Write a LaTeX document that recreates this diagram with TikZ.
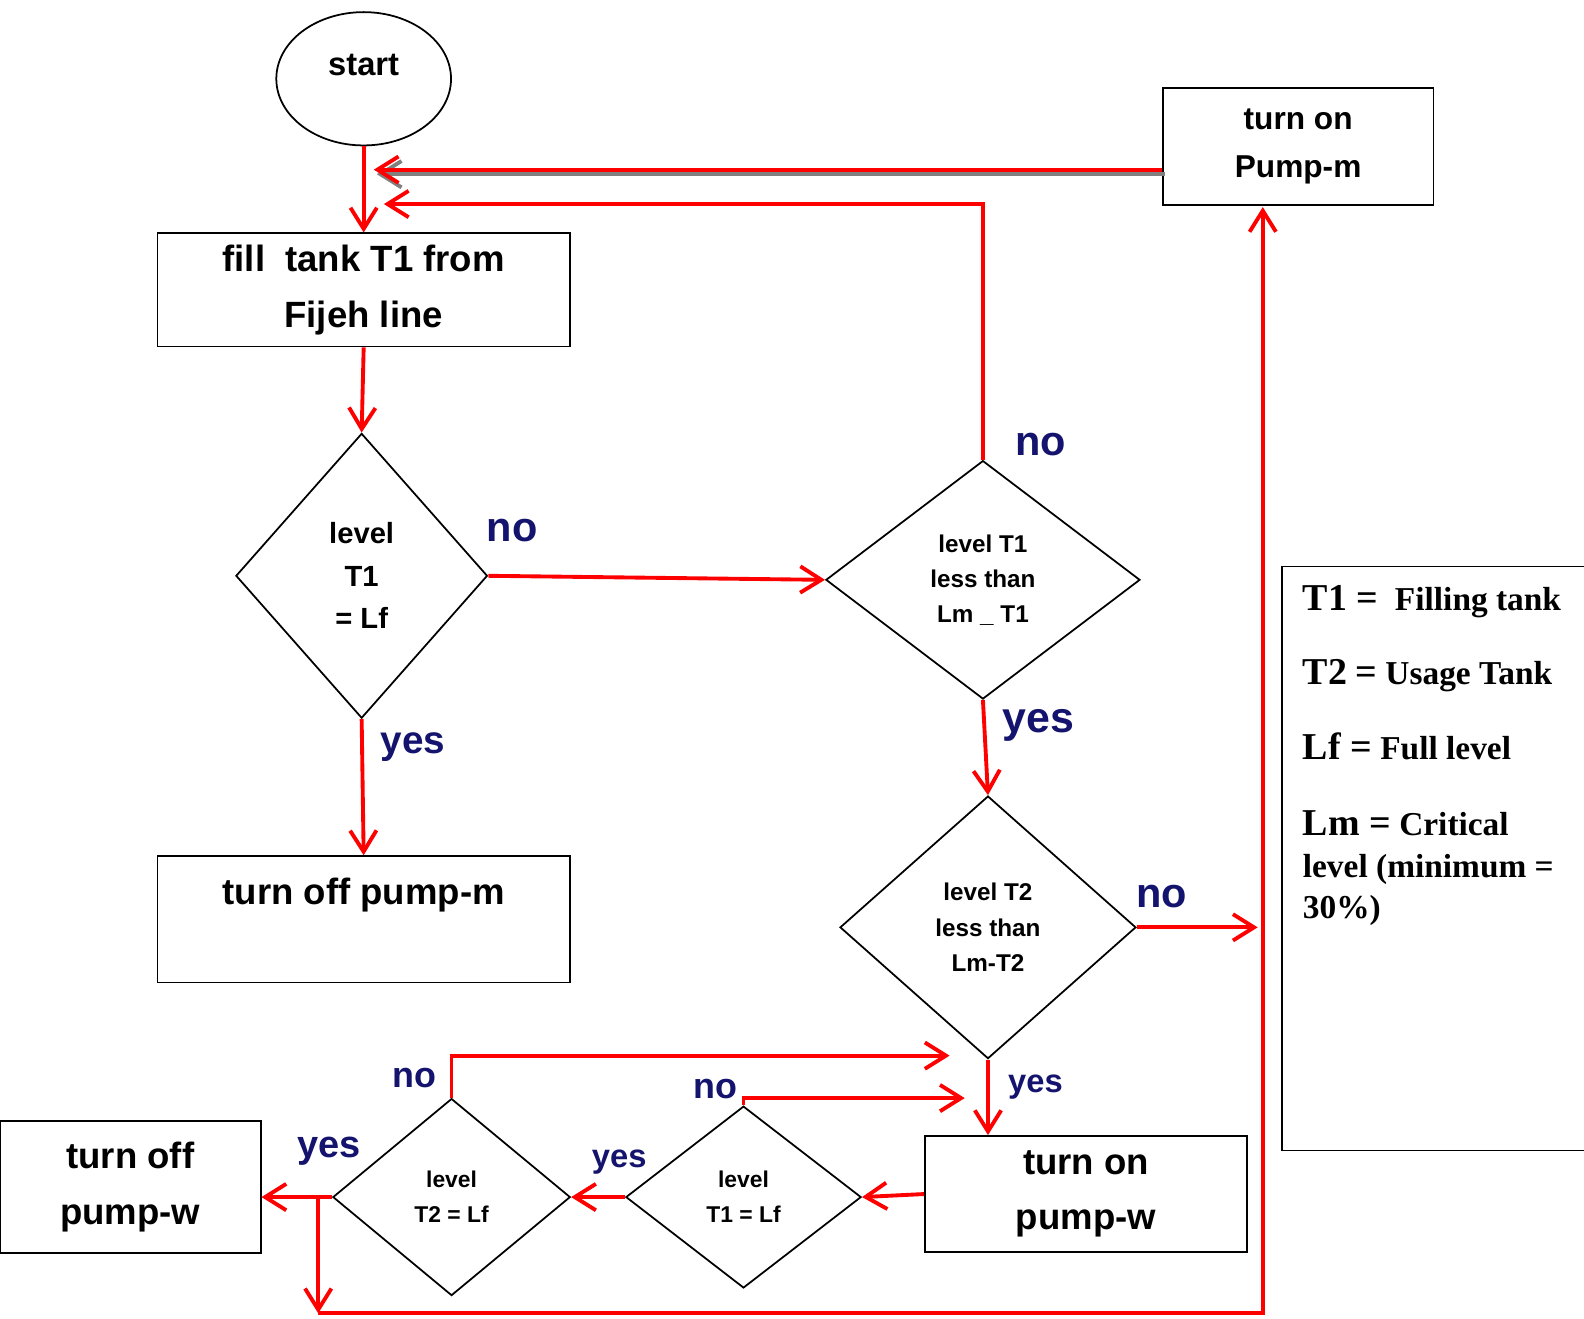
\documentclass[tikz,border=0pt]{standalone}
\usepackage{fontspec}
\setmainfont{Liberation Sans}
\newfontfamily\keyfont{Liberation Serif}
\usepackage{xcolor}
\usetikzlibrary{arrows.meta,shapes.geometric}
\definecolor{lblblue}{RGB}{20,20,110}

\begin{document}
\begin{tikzpicture}[x=0.0101cm, y=-0.0101cm,
  box/.style={draw, line width=0.5pt, align=center, inner sep=0pt,
    font=\bfseries\fontsize{10.4}{15.8}\selectfont},
  dia/.style={draw, diamond, line width=0.5pt, align=center, inner sep=0pt,
    font=\bfseries\fontsize{6.9}{10}\selectfont},
  flow/.style={draw=red, line width=1.1pt, -{Straight Barb[length=6pt,width=7.5pt]}},
  lbl/.style={text=lblblue, inner sep=0pt, font=\bfseries\fontsize{11.8}{14}\selectfont},
  lblsmall/.style={lbl, font=\bfseries\fontsize{10.2}{12}\selectfont},
  keytxt/.style={inner sep=0pt, anchor=base west, font=\keyfont\bfseries\fontsize{9.5}{12}\selectfont}
]
\useasboundingbox[fill=white] (0,0) rectangle (1568,1305);

% main column
\node[draw, ellipse, line width=0.5pt, minimum width=1.747cm, minimum height=1.333cm,
  inner sep=0pt, text depth=8pt, font=\bfseries\fontsize{9.3}{11}\selectfont] (start) at (360,78) {start};
\node[box, minimum width=4.121cm, minimum height=1.131cm] (fill) at (360,287) {fill\ \ tank T1 from\\Fijeh line};
\node[dia, minimum width=2.515cm, minimum height=2.848cm,
  font=\bfseries\fontsize{8.3}{12.1}\selectfont] (lvlA) at (358,570) {level\\T1\\= Lf};
\node[box, minimum width=4.121cm, minimum height=1.263cm] (offm) at (360,910) {turn off pump-m\\ \mbox{}};

% right column
\node[box, minimum width=2.707cm, minimum height=1.172cm,
  font=\bfseries\fontsize{9}{13.5}\selectfont] (pumpm) at (1285,145) {turn on\\Pump-m};
\node[dia, minimum width=3.141cm, minimum height=2.384cm] (lvlB) at (973,574) {level T1\\less than\\Lm \_ T1};
\node[dia, minimum width=2.959cm, minimum height=2.626cm] (lvlC) at (978,918) {level T2\\less than\\Lm-T2};
\node[box, minimum width=3.222cm, minimum height=1.162cm] (onw) at (1075,1182) {turn on\\pump-w};

% bottom row
\node[dia, minimum width=2.353cm, minimum height=1.818cm,
  font=\bfseries\fontsize{6.5}{10}\selectfont] (lvlD) at (736,1185) {level\\T1 = Lf};
\node[dia, minimum width=2.374cm, minimum height=1.970cm,
  font=\bfseries\fontsize{6.5}{10}\selectfont] (lvlE) at (447,1185) {level\\T2 = Lf};
\node[box, minimum width=2.606cm, minimum height=1.313cm] (offw) at (129,1175) {turn off\\pump-w};

% free ends of the return lines
\coordinate (backA) at (380,202);
\coordinate (backB) at (370,168);
\coordinate (rin) at (1245,918);
\coordinate (backD) at (955,1087);
\coordinate (backE) at (940,1045);
\coordinate (split) at (315,1185);
\coordinate (bot) at (315,1300);
\coordinate (upin) at (1250,205);

% connectors
\draw[flow] (start) -- (fill);
\draw[flow] (fill.south) -- (lvlA.north);
\draw[flow] (lvlA.east) -- (lvlB.west);
\draw[flow] (lvlA.south) -- (offm.north);
\draw[flow] (lvlB.north) |- (backA);
\draw[flow, draw=gray, transform canvas={xshift=0.03cm,yshift=-0.045cm}] (backB -| pumpm.west) -- (backB);
\draw[flow] (backB -| pumpm.west) -- (backB);
\draw[flow] (lvlB.south) -- (lvlC.north);
\draw[flow] (lvlC.east) -- (rin);
\draw[flow] (lvlC.south) -- (lvlC.south |- onw.north);
\draw[flow] (onw.west) -- (lvlD.east);
\draw[flow] (lvlD.west) -- (lvlE.east);
\draw[flow] (lvlE.west) -- (lvlE.west -| offw.east);
\draw[flow] (lvlD.north) |- (backD);
\draw[flow] (lvlE.north) |- (backE);
\draw[flow] (split) -- (bot);
\draw[flow] (bot) -| (upin);

% yes / no labels
\node[lbl] (noA) at (507,525) {no};
\node[lbl, font=\bfseries\fontsize{11}{13}\selectfont] (yesA) at (409,740) {yes};
\node[lbl] (noB) at (1030,440) {no};
\node[lbl, font=\bfseries\fontsize{12.2}{14}\selectfont] (yesB) at (1028,718) {yes};
\node[lbl] (noC) at (1150,887) {no};
\node[lblsmall, font=\bfseries\fontsize{9.3}{11}\selectfont] (yesC) at (1025,1076) {yes};
\node[lblsmall] (noD) at (708,1078) {no};
\node[lblsmall, font=\bfseries\fontsize{9.3}{11}\selectfont] (yesD) at (613,1150) {yes};
\node[lblsmall] (noE) at (410,1067) {no};
\node[lblsmall, font=\bfseries\fontsize{10.8}{13}\selectfont] (yesE) at (326,1140) {yes};

% key
\node[draw, line width=0.5pt, anchor=north west, minimum width=3.353cm, minimum height=5.838cm] (key) at (1268,560) {};
\node[keytxt] (keyA) at (1289,604) {{\fontsize{10.8}{13}\selectfont T1 =}\ \ Filling tank};
\node[keytxt] (keyB) at (1289,678) {{\fontsize{10.8}{13}\selectfont T2} {\fontsize{10.8}{13}\selectfont =} Usage Tank};
\node[keytxt] (keyC) at (1289,752) {{\fontsize{10.8}{13}\selectfont Lf =} Full level};
\node[keytxt] (keyD) at (1289,827) {{\fontsize{10.8}{13}\selectfont Lm =} Critical};
\node[keytxt] (keyE) at (1289,869) {level (minimum =};
\node[keytxt] (keyF) at (1289,909) {30\%)};
\end{tikzpicture}
\end{document}
